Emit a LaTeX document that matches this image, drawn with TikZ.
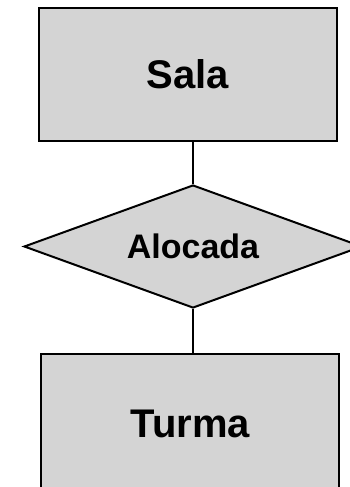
\documentclass[tikz,border=0pt]{standalone}
\usepackage{fontspec}
\setmainfont{Liberation Sans}
\usetikzlibrary{shapes.geometric}
\definecolor{boxgray}{RGB}{212,212,212}
\tikzset{
  entity/.style={draw=black, fill=boxgray, line width=2pt, rectangle,
    minimum width=298pt, minimum height=133pt, inner sep=0pt,
    font=\fontsize{40}{44}\selectfont\bfseries},
  relation/.style={draw=black, fill=boxgray, line width=2pt, diamond,
    minimum width=338pt, minimum height=123pt, aspect=2.75, inner sep=0pt,
    font=\fontsize{34}{38}\selectfont\bfseries},
  link/.style={draw=black, line width=2pt}
}
\begin{document}
\begin{tikzpicture}[x=1pt, y=1pt]
  \useasboundingbox (0,0) rectangle (350,-487);
  \clip (0,0) rectangle (350,-487);
  \node[entity] (sala) at (188,-74.5) {Sala};
  \node[relation] (alocada) at (193,-246.5) {Alocada};
  % lower box runs past the bottom edge of the page
  \node[entity, minimum height=140pt] (turma) at (190.3,-424) {Turma};
  \draw[link] (alocada.north) -- (alocada.north |- sala.south);
  \draw[link] (alocada.south) -- (alocada.south |- turma.north);
\end{tikzpicture}
\end{document}
